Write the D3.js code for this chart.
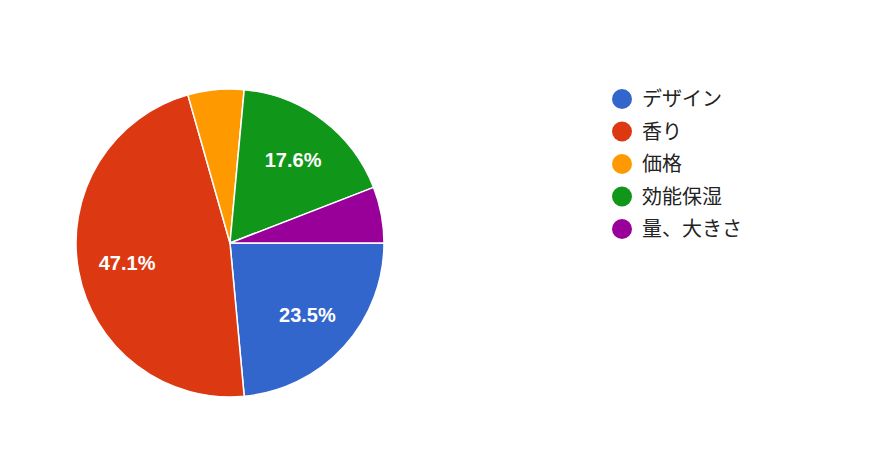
<!DOCTYPE html>
<html><head><meta charset="utf-8">
<script src="https://cdn.jsdelivr.net/npm/d3@7"></script>
<style>body{margin:0;background:#fff}</style>
</head><body>
<svg id="c" width="874" height="452"></svg>
<script>
const categories = ["デザイン","香り","価格","効能保湿","量、大きさ"];
const values = [4, 8, 1, 3, 1];
const colors = ["#3366cc","#dc3912","#ff9900","#109618","#990099"];

const svg = d3.select("#c");
const cx = 230, cy = 243, R = 154;
const total = d3.sum(values);
const pie = d3.pie().sort(null).startAngle(Math.PI/2).endAngle(Math.PI/2 + 2*Math.PI);
const arcs = pie(values);
const arc = d3.arc().innerRadius(0).outerRadius(R);
const g = svg.append("g").attr("transform", `translate(${cx},${cy})`);
g.selectAll("path").data(arcs).join("path")
  .attr("d", arc).attr("fill", (d,i)=>colors[i])
  .attr("stroke","#fff").attr("stroke-width",1.5);
const labelArc = d3.arc().innerRadius(R*0.68).outerRadius(R*0.68);
g.selectAll("text").data(arcs.filter(d => d.value/total > 0.1)).join("text")
  .attr("transform", d => `translate(${labelArc.centroid(d)})`)
  .attr("text-anchor","middle").attr("dy","0.4em")
  .attr("fill","#fff").attr("font-family","Liberation Sans, Arial, sans-serif")
  .attr("font-size",20).attr("font-weight","bold")
  .text(d => (d.value/total*100).toFixed(1) + "%");

const leg = svg.append("g");
const y = d3.scalePoint().domain(categories).range([99, 229]);
const item = leg.selectAll("g").data(categories).join("g")
  .attr("transform", d => `translate(622,${y(d)})`);
item.append("circle").attr("r",10).attr("fill",(d,i)=>colors[i]);
item.append("text").attr("x",20).attr("dy","0.36em")
  .attr("font-family","Noto Sans CJK JP, sans-serif").attr("font-size",20)
  .attr("fill","#222").text(d=>d);
</script>
</body></html>
